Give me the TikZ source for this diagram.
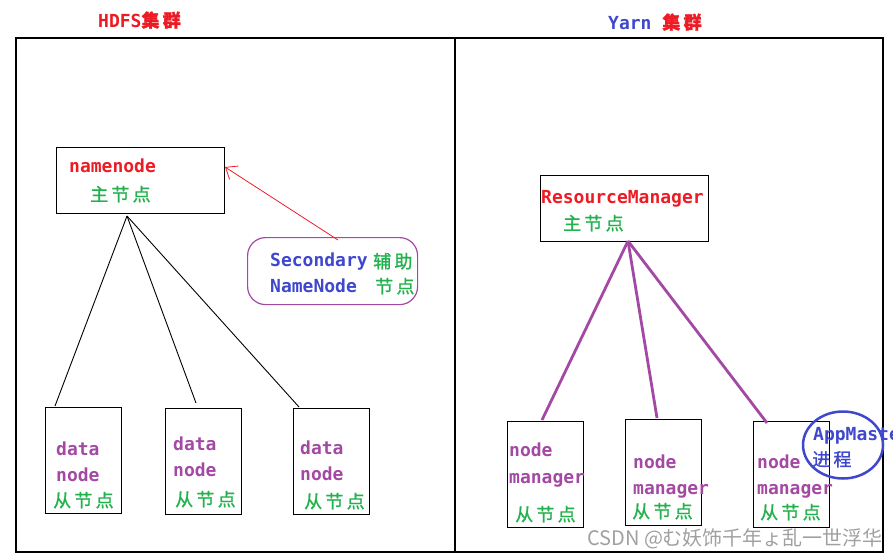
\documentclass[tikz,border=0pt]{standalone}
\usepackage{fontspec}
\usetikzlibrary{arrows.meta,shapes.geometric}
\newfontfamily\monof{DejaVu Sans Mono}
\newfontfamily\cjkf{Noto Sans CJK SC}[LetterSpace=18,FakeBold=1.2]
\newfontfamily\wmf{Noto Sans CJK SC}
\definecolor{pred}{RGB}{237,28,36}
\definecolor{pblue}{RGB}{63,72,204}
\definecolor{pgreen}{RGB}{34,177,76}
\definecolor{ppurple}{RGB}{163,73,164}
\definecolor{wmgrey}{RGB}{160,160,160}
\tikzset{
  mono/.style={anchor=base west, inner sep=0pt, font=\monof\bfseries\fontsize{18pt}{20pt}\selectfont},
  cj/.style={anchor=base west, inner sep=0pt, font=\cjkf\fontsize{18pt}{20pt}\selectfont},
  boxn/.style={draw=black, line width=1.3pt, anchor=north west, inner sep=0pt},
  hdfsline/.style={draw=black, line width=0.9pt},
  yarnline/.style={draw=ppurple, line width=2.8pt},
}
\begin{document}
\begin{tikzpicture}[x=1pt,y=-1pt]
\useasboundingbox (0,0) rectangle (893,557);
\begin{scope}
\clip (0,0) rectangle (893,557);
% outer frame
\draw[line width=1.4pt] (16,38) rectangle (883,552);
\draw[line width=1.4pt] (455,38) -- (455,552);
% titles
\node[mono, text=pred] (hdfsT) at (98,27) {HDFS{\cjkf 集群}};
\node[mono, text=pblue] (yarnT) at (608,29) {Yarn {\cjkf\color{pred}集群}};
% HDFS boxes
\node[boxn, minimum width=168pt, minimum height=66pt] (nn) at (56,147) {};
\node[draw=ppurple, line width=1.2pt, rounded corners=18pt, anchor=north west, minimum width=170pt, minimum height=67pt, inner sep=0pt] (sec) at (247,237) {};
\node[boxn, minimum width=76pt, minimum height=106pt] (dn1) at (45,407) {};
\node[boxn, minimum width=76pt, minimum height=106pt] (dn2) at (165,408) {};
\node[boxn, minimum width=76pt, minimum height=106pt] (dn3) at (293,408) {};
% Yarn boxes
\node[boxn, minimum width=168pt, minimum height=66pt] (rm) at (540,175) {};
\node[boxn, minimum width=76pt, minimum height=106pt] (nm1) at (507,421) {};
\node[boxn, minimum width=76pt, minimum height=106pt] (nm2) at (625,419) {};
\node[boxn, minimum width=76pt, minimum height=106pt] (nm3) at (753,421) {};
\node[draw=pblue, line width=2.5pt, ellipse, minimum width=80pt, minimum height=67pt, inner sep=0pt] (am) at (843,445) {};
% connector points
\coordinate (nnApex) at (127,216);
\coordinate (dn1Top) at (55,406);
\coordinate (dn2Top) at (196,403);
\coordinate (dn3Top) at (299,407);
\coordinate (rmApex) at (628,241);
\coordinate (nm1Top) at (542,420);
\coordinate (nm2Top) at (657,418);
\coordinate (nm3Top) at (767,423);
\coordinate (secTop) at (338,240);
\coordinate (nnRight) at (225,167);
% connectors
\draw[hdfsline] (nnApex) -- (dn1Top);
\draw[hdfsline] (nnApex) -- (dn2Top);
\draw[hdfsline] (nnApex) -- (dn3Top);
\draw[yarnline] (rmApex) -- (nm1Top);
\draw[yarnline] (rmApex) -- (nm2Top);
\draw[yarnline] (rmApex) -- (nm3Top);
\draw[draw=pred, line width=0.8pt, -{Straight Barb[length=10pt,width=16pt]}] (secTop) -- (nnRight);
% texts HDFS
\node[mono, text=pred] (nnT) at (69,172) {namenode};
\node[cj, text=pgreen] (nnC) at (90,201) {主节点};
\node[mono, text=pblue] (secT1) at (270,266) {Secondary};
\node[mono, text=pblue] (secT2) at (270,292) {NameNode};
\node[cj, text=pgreen] (secC1) at (373,268) {辅助};
\node[cj, text=pgreen] (secC2) at (375,293) {节点};
\node[mono, text=ppurple] (dn1a) at (56,455) {data};
\node[mono, text=ppurple] (dn1b) at (56,481) {node};
\node[cj, text=pgreen] (dn1c) at (53,507) {从节点};
\node[mono, text=ppurple] (dn2a) at (173,450) {data};
\node[mono, text=ppurple] (dn2b) at (173,476) {node};
\node[cj, text=pgreen] (dn2c) at (175,506) {从节点};
\node[mono, text=ppurple] (dn3a) at (300,454) {data};
\node[mono, text=ppurple] (dn3b) at (300,480) {node};
\node[cj, text=pgreen] (dn3c) at (304,508) {从节点};
% texts Yarn
\node[mono, text=pred] (rmT) at (541,203) {ResourceManager};
\node[cj, text=pgreen] (rmC) at (563,230) {主节点};
\node[mono, text=ppurple] (nm1a) at (509,456) {node};
\node[mono, text=ppurple] (nm1b) at (509,483) {manager};
\node[cj, text=pgreen] (nm1c) at (515,521) {从节点};
\node[mono, text=ppurple] (nm2a) at (633,468) {node};
\node[mono, text=ppurple] (nm2b) at (633,494) {manager};
\node[cj, text=pgreen] (nm2c) at (632,518) {从节点};
\node[mono, text=ppurple] (nm3a) at (757,468) {node};
\node[mono, text=ppurple] (nm3b) at (757,494) {manager};
\node[cj, text=pgreen] (nm3c) at (760,519) {从节点};
\node[mono, text=pblue] (amT) at (813,440) {AppMaster};
\node[cj, text=pblue] (amC) at (812,466) {进程};
% watermark
\node[anchor=base west, inner sep=0pt, text=wmgrey, font=\wmf\fontsize{20pt}{22pt}\selectfont] (wm) at (587,545) {CSDN @む妖饰千年ょ乱一世浮华};
\end{scope}
\end{tikzpicture}
\end{document}
